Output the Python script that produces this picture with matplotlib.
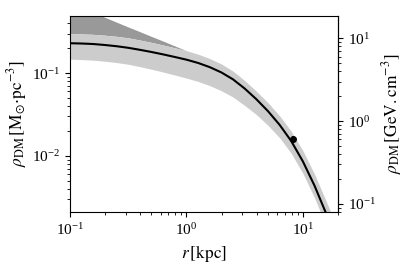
import matplotlib
matplotlib.use("Agg")
import matplotlib.pyplot as plt

plt.rcParams['font.family'] = ['Liberation Serif', 'DejaVu Serif']
plt.rcParams['mathtext.fontset'] = 'stix'
plt.rcParams['font.size'] = 11

# radius [kpc]
r_kpc = [0.1, 0.126, 0.158, 0.2, 0.251, 0.316, 0.398, 0.501, 0.631, 0.794,
         1.0, 1.259, 1.585, 1.995, 2.512, 3.162, 3.981, 5.012, 6.31, 7.943,
         10.0, 12.59, 15.85, 19.95]
# best-fit density [Msun/pc^3]
rho_fit = [0.2298, 0.2279, 0.2248, 0.2186, 0.2114, 0.2023, 0.1913, 0.1800,
           0.1684, 0.1567, 0.1454, 0.1327, 0.1181, 0.1019, 0.0840, 0.0651,
           0.0484, 0.0347, 0.0237, 0.01507, 0.00855, 0.00435, 0.00200,
           0.000902]
# light band
rho_low = [0.1475, 0.1458, 0.1434, 0.1391, 0.1342, 0.1280, 0.1198, 0.1114,
           0.1031, 0.0949, 0.0871, 0.0794, 0.0707, 0.0612, 0.0514, 0.0407,
           0.0316, 0.0234, 0.01654, 0.01074, 0.00613, 0.00311, 0.00141,
           0.000629]
rho_up = [0.2992, 0.2975, 0.2942, 0.2870, 0.2783, 0.2670, 0.2512, 0.2350,
          0.2186, 0.2023, 0.1867, 0.1694, 0.1500, 0.1291, 0.1057, 0.0814,
          0.0605, 0.0439, 0.0305, 0.0198, 0.01154, 0.00601, 0.00283,
          0.00129]
# dark band (inner region, above the light band)
r_dark = [0.1, 0.126, 0.158, 0.2, 0.251, 0.316, 0.398, 0.501, 0.631, 0.794,
          1.0]
rho_dark_low = [0.2992, 0.2975, 0.2942, 0.2870, 0.2783, 0.2670, 0.2512,
                0.2350, 0.2186, 0.2023, 0.1867]
rho_dark_up = [0.6993, 0.6118, 0.5373, 0.4716, 0.4127, 0.3612, 0.3171,
               0.2775, 0.2436, 0.2132, 0.1867]

# local measurement
r_sun = [8.2]
rho_sun = [0.016]
rho_sun_err = [0.0015]

GEV_PER_MSUN_PC3 = 37.97

fig = plt.figure(figsize=(4.08, 2.67), dpi=100)
ax = fig.add_axes([70 / 408, 55 / 267, 268 / 408, 196 / 267])

ax.fill_between(r_dark, rho_dark_low, rho_dark_up, color='0.6', lw=0)
ax.fill_between(r_kpc, rho_low, rho_up, color='0.8', lw=0)
ax.plot(r_kpc, rho_fit, color='k', lw=1.5)
ax.errorbar(r_sun, rho_sun, yerr=rho_sun_err, fmt='o', color='k', ms=4,
            elinewidth=1.2, capsize=0)

ax.set_xscale('log')
ax.set_yscale('log')
ax.set_xlim(0.1, 20)
ax.set_ylim(0.0021, 0.49)
ax.set_xlabel(r'$r\,[\mathrm{kpc}]$', fontsize=12.5)
ax.set_ylabel(r'$\rho_{\mathrm{DM}}\,[\mathrm{M_{\odot}{\cdot}pc^{-3}}]$',
              fontsize=12.5, labelpad=2)

sec = ax.secondary_yaxis('right', functions=(lambda x: x * GEV_PER_MSUN_PC3,
                                             lambda x: x / GEV_PER_MSUN_PC3))
sec.set_ylabel(r'$\rho_{\mathrm{DM}}\,[\mathrm{GeV.cm^{-3}}]$',
               fontsize=12.5, labelpad=3)

fig.savefig('out.png', dpi=100)
